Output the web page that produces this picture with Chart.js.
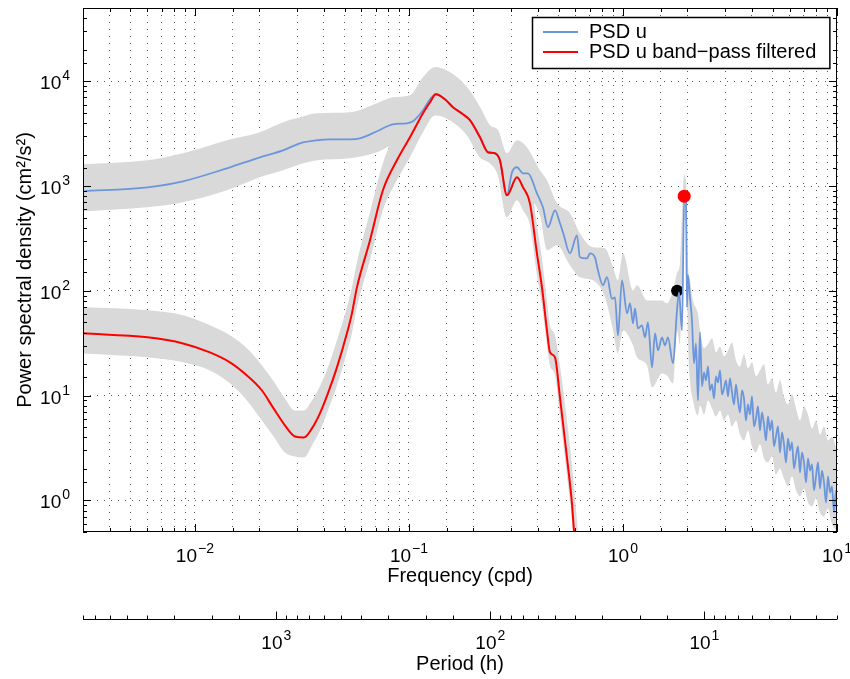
<!DOCTYPE html>
<html>
<head>
<meta charset="utf-8">
<script src="https://cdn.jsdelivr.net/npm/chart.js@4.4.1/dist/chart.umd.min.js"></script>
<style>
  html, body { margin: 0; padding: 0; background: #fff; }
  #wrap { width: 850px; height: 679px; }
</style>
</head>
<body>
<div id="wrap"><canvas id="psd" width="850" height="679"></canvas></div>
<script>
// PSD of u (cpd, cm^2/s^2)
const uFreq = [0.003, 0.006, 0.0088, 0.0141, 0.0201, 0.0258, 0.031, 0.0372, 0.0427, 0.053,
  0.059, 0.0709, 0.0841, 0.0979, 0.1045, 0.1163, 0.1254, 0.1337, 0.1473, 0.1606,
  0.1788, 0.1928, 0.2148, 0.2339, 0.2522, 0.2661, 0.2869, 0.3029, 0.3197, 0.3411,
  0.3599, 0.3963, 0.4227, 0.4462, 0.4813, 0.5077, 0.5244, 0.5655, 0.6096, 0.6294,
  0.6788, 0.7009, 0.7396, 0.7638, 0.8064, 0.842, 0.8887, 0.9177, 0.9476, 0.9894,
  1.045, 1.079, 1.114, 1.138, 1.175, 1.227, 1.267, 1.308, 1.367, 1.412,
  1.458, 1.522, 1.571, 1.622, 1.713, 1.788, 1.827, 1.887, 1.932, 1.97,
  1.991, 2.013, 2.056, 2.101, 2.147, 2.193, 2.241, 2.29,
  2.34, 2.391, 2.443, 2.496, 2.55, 2.606, 2.662, 2.72, 2.779, 2.84,
  2.902, 2.965, 3.029, 3.095, 3.162, 3.231, 3.301, 3.373, 3.446, 3.521,
  3.598, 3.676, 3.756, 3.838, 3.921, 4.006, 4.094, 4.183, 4.274, 4.367,
  4.462, 4.559, 4.658, 4.759, 4.863, 4.969, 5.077, 5.187, 5.3, 5.415,
  5.533, 5.653, 5.776, 5.902, 6.03, 6.162, 6.296, 6.433, 6.573, 6.716,
  6.862, 7.011, 7.164, 7.32, 7.479, 7.642, 7.808, 7.978, 8.152, 8.329,
  8.51, 8.695, 8.885, 9.078, 9.276, 9.477, 9.684, 9.894, 10];
const uPsd = [891, 973, 1110, 1476, 1880, 2193, 2560, 2735, 2793, 2793,
  2857, 3334, 3882, 3972, 4150, 5284, 6730, 7516, 6730, 5648,
  4842, 4246, 2918, 2100, 2055, 1762, 816, 1352, 1511, 1324,
  1324, 853, 627, 404, 587, 441, 362, 228, 339, 209,
  204, 228, 209, 157, 113, 135, 84, 86.7, 37.6, 126,
  61, 76, 48.9, 68.1, 43.9, 46.9, 36, 50, 18.6, 39.3,
  27, 36, 30.2, 36, 20.3, 65.2, 96.8, 42, 781, 731,
  69.5, 141, 86.7, 52.3, 20.3, 31.5, 9.01, 40.2,
  12.26, 16.67, 13.98, 19.02, 11.22, 12.8, 9.41, 15.27, 13.38, 17.42,
  10.28, 11.73, 13.98, 9.84, 14.61, 10.74, 8.25, 12.8, 9.01, 6.92,
  11.22, 9.41, 5.8, 8.25, 6.62, 9.84, 5.09, 6.07, 7.9, 4.66,
  6.92, 5.32, 3.74, 6.34, 4.66, 5.8, 3.28, 4.08, 5.09, 2.87,
  4.46, 3.43, 2.31, 3.91, 3.0, 3.58, 2.02, 2.63, 3.28, 1.85,
  2.87, 2.31, 1.49, 2.52, 1.93, 2.21, 1.25, 1.7, 2.31, 1.3,
  1.93, 1.49, 0.957, 1.7, 1.19, 1.36, 0.768, 1.25, 0.916];

// confidence band of PSD u
const uBandFreq = [0.003, 0.006, 0.0088, 0.0141, 0.0201, 0.0258, 0.031, 0.0372, 0.053, 0.0709,
  0.0841, 0.1011, 0.1163, 0.1323, 0.1554, 0.1866, 0.2148, 0.239, 0.2606, 0.2869,
  0.3197, 0.3558, 0.4094, 0.4415, 0.4916, 0.5655, 0.6294, 0.7243, 0.824, 0.8981,
  0.9476, 1.0, 1.114, 1.163, 1.295, 1.367, 1.522, 1.605, 1.713, 1.788,
  1.847, 1.932, 1.97, 2.013, 2.056, 2.124, 2.241,
  2.29, 2.391, 2.496, 2.606, 2.72, 2.84, 2.965, 3.095, 3.231, 3.373,
  3.521, 3.676, 3.838, 4.006, 4.183, 4.367, 4.559, 4.759, 4.969, 5.187,
  5.415, 5.653, 5.902, 6.162, 6.433, 6.716, 7.011, 7.32, 7.642, 7.978,
  8.329, 8.695, 9.078, 9.477, 9.894, 10];
const uBandHi = [1614, 1762, 2055, 2735, 3258, 4061, 4529, 4955, 5058, 6166,
  7031, 7343, 10910, 13610, 12190, 8770, 5648, 3802, 3404, 2055,
  2735, 2344, 1413, 1135, 684, 550, 354, 260, 255, 168,
  126, 228, 101, 113, 81.1, 81.1, 81.1, 76, 101, 147,
  183, 1268, 1135, 183, 126, 81.1, 60,
  42, 28.3, 30.9, 35.2, 25.9, 29.5, 23.7, 27, 32.2, 21.7,
  19, 24.8, 18.2, 20.8, 15.3, 17.4, 19.9, 12.8, 14.6, 10.7,
  14, 9.84, 8.25, 10.3, 7.56, 5.8, 7.9, 6.62, 4.87, 5.8,
  4.27, 5.09, 3.74, 4.08, 3.14, 2.81];
const uBandLo = [574, 627, 700, 911, 1213, 1413, 1614, 1762, 1841, 2100,
  2449, 2560, 3404, 4732, 4246, 3051, 1880, 1648, 1268, 503,
  853, 781, 526, 244, 272, 175, 135, 126, 86.7, 42,
  25.3, 42, 30.2, 23.2, 19.4, 12, 16.3, 15.6, 13.1, 42,
  30.2, 471, 422, 33.7, 14, 9.01, 6.48,
  8.07, 6.62, 9.01, 7.56, 6.34, 7.23, 5.8, 6.62, 5.09, 5.8,
  4.27, 3.74, 4.66, 3.28, 2.87, 3.43, 2.52, 2.31, 2.63, 1.77,
  2.02, 1.62, 1.36, 1.7, 1.25, 1.09, 1.3, 0.957, 0.877, 1.05,
  0.768, 0.704, 0.839, 0.59, 0.517, 0.495];

// PSD of band-pass filtered u
const fFreq = [0.003, 0.006, 0.0088, 0.01175, 0.01458, 0.0175, 0.02057, 0.02314, 0.02634, 0.02933,
  0.0323, 0.03522, 0.03838, 0.04182, 0.04609, 0.05132, 0.05415, 0.05715, 0.06574, 0.07557,
  0.08787, 0.1011, 0.1163, 0.1254, 0.1337, 0.1473, 0.1606, 0.1788, 0.1928, 0.2148,
  0.2339, 0.2522, 0.2661, 0.2869, 0.3197, 0.3411, 0.3675, 0.3963, 0.4183, 0.4415,
  0.456, 0.4813, 0.5077, 0.5474, 0.5777, 0.5902, 0.6096];
const fPsd = [39.3, 36, 31.5, 25.9, 20.8, 15.6, 11.2, 7.73, 5.2, 4.08,
  3.99, 4.87, 6.77, 10.5, 18.6, 39.3, 61, 108, 303, 911,
  1762, 2918, 4955, 6300, 7516, 6730, 5648, 4842, 4246, 2918,
  2100, 2055, 1762, 816, 1213, 973, 684, 228, 108, 42,
  25.9, 23.2, 9.62, 2.57, 0.936, 0.517, 0.267];

// confidence band of filtered PSD
const fBandFreq = [0.003, 0.006, 0.0088, 0.01175, 0.01458, 0.0175, 0.02057, 0.02314, 0.02634, 0.02933,
  0.0323, 0.03522, 0.03838, 0.04182, 0.04609, 0.05132, 0.05415, 0.05715, 0.06574, 0.07557,
  0.08787, 0.1011, 0.1163, 0.1323, 0.1554, 0.1866, 0.2148, 0.239, 0.2606, 0.2869,
  0.3197, 0.3411, 0.3675, 0.3963, 0.4183, 0.4415, 0.456, 0.4813, 0.5077, 0.5474,
  0.5777, 0.6096, 0.6294];
const fBandHi = [69.6, 65.2, 58.4, 46.9, 37.6, 28.3, 19.4, 14, 9.41, 7.23,
  7.23, 9.01, 12.3, 18.6, 33.7, 69.6, 108, 187, 561, 1648,
  3404, 5523, 10230, 13610, 12190, 8770, 5648, 3802, 3404, 2055,
  2193, 1762, 1268, 422, 204, 81.1, 46.9, 37.6, 19.4, 5.8,
  2.16, 0.644, 0.267];
const fBandLo = [25.3, 23.2, 20.8, 17.4, 13.1, 9.01, 5.8, 4.17, 2.87, 2.63,
  2.57, 3.35, 4.66, 7.23, 12.5, 25.9, 39.3, 69.6, 196, 587,
  1135, 1880, 3258, 4732, 4246, 3051, 1880, 1648, 1268, 503,
  731, 587, 422, 141, 72.7, 30.2, 19.4, 15.6, 6.48, 1.73,
  0.644, 0.172, 0.0715];

// marked frequencies
const blackDotFreq = [1.79];
const blackDotPsd = [100];
const redDotFreq = [1.932];
const redDotPsd = [800];

const GRAY = '#d9d9d9';
const BLUE = '#6b96dc';
const RED = '#ff0000';
const FONT = '"Liberation Sans", Arial, Helvetica, sans-serif';

function isDecade(v) {
  const l = Math.log10(v);
  return Math.abs(l - Math.round(l)) < 1e-6;
}

function pts(xs, ys) {
  return xs.map((f, i) => ({x: f, y: ys[i]}));
}

function fixSize(prop, size) {
  return s => {
    s[prop] = size;
    s.paddingLeft = s.paddingRight = s.paddingTop = s.paddingBottom = 0;
  };
}

// "10" with a raised exponent; align 'center' or 'right' on x, baseline at y
function drawPow(ctx, value, x, y, align) {
  const e = Math.round(Math.log10(value));
  const exp = e < 0 ? '\u2212' + (-e) : String(e);
  ctx.font = '19px ' + FONT;
  const wBase = ctx.measureText('10').width;
  ctx.font = '14px ' + FONT;
  const wExp = ctx.measureText(exp).width;
  const total = wBase + 1 + wExp;
  const x0 = align === 'right' ? x - total : x - total / 2;
  ctx.textAlign = 'left';
  ctx.textBaseline = 'alphabetic';
  ctx.font = '19px ' + FONT;
  ctx.fillText('10', x0, y);
  ctx.font = '14px ' + FONT;
  ctx.fillText(exp, x0 + wBase + 1, y - 9);
}

// box with inward tick marks and decade labels, like the matlab axes
const frameTicks = {
  id: 'frameTicks',
  afterDraw(chart) {
    const {ctx, chartArea: a, scales} = chart;
    const x2 = scales.x2;
    const yb = Math.round(x2.top) + 0.5;
    ctx.save();
    ctx.strokeStyle = '#000';
    ctx.lineWidth = 1;
    ctx.strokeRect(a.left + 0.5, a.top + 0.5, a.right - a.left - 1, a.bottom - a.top - 1);

    ctx.beginPath();
    scales.x.ticks.forEach(t => {
      const px = Math.round(scales.x.getPixelForValue(t.value)) + 0.5;
      const len = isDecade(t.value) ? 8 : 4;
      ctx.moveTo(px, a.bottom); ctx.lineTo(px, a.bottom - len);
      ctx.moveTo(px, a.top); ctx.lineTo(px, a.top + len);
    });
    scales.y.ticks.forEach(t => {
      const py = Math.round(scales.y.getPixelForValue(t.value)) + 0.5;
      const len = isDecade(t.value) ? 8 : 4;
      ctx.moveTo(a.left, py); ctx.lineTo(a.left + len, py);
      ctx.moveTo(a.right, py); ctx.lineTo(a.right - len, py);
    });
    ctx.moveTo(a.left, yb); ctx.lineTo(a.right, yb);
    x2.ticks.forEach(t => {
      const px = Math.round(x2.getPixelForValue(t.value)) + 0.5;
      const len = isDecade(t.value) ? 8 : 4;
      ctx.moveTo(px, yb); ctx.lineTo(px, yb - len);
    });
    ctx.stroke();

    ctx.fillStyle = '#000';
    scales.x.ticks.filter(t => isDecade(t.value)).forEach(t => {
      drawPow(ctx, t.value, scales.x.getPixelForValue(t.value), a.bottom + 30, 'center');
    });
    x2.ticks.filter(t => isDecade(t.value)).forEach(t => {
      drawPow(ctx, t.value, x2.getPixelForValue(t.value), x2.top + 30, 'center');
    });
    scales.y.ticks.filter(t => isDecade(t.value)).forEach(t => {
      drawPow(ctx, t.value, a.left - 13, scales.y.getPixelForValue(t.value) + 8, 'right');
    });
    ctx.restore();
  }
};

// legend box in the upper right corner of the axes
const boxLegend = {
  id: 'boxLegend',
  afterDraw(chart) {
    const {ctx, chartArea: a} = chart;
    const items = chart.data.datasets.filter(d => d.inLegend);
    ctx.save();
    ctx.font = '20px ' + FONT;
    const textW = Math.max(...items.map(d => ctx.measureText(d.label).width));
    const w = 57 + textW + 13;
    const h = 51;
    const x0 = Math.round(a.right - 8 - w);
    const y0 = a.top + 9;
    ctx.fillStyle = '#fff';
    ctx.fillRect(x0, y0, w, h);
    ctx.strokeStyle = '#000';
    ctx.lineWidth = 1.5;
    ctx.strokeRect(x0 + 0.5, y0 + 0.5, w, h);
    items.forEach((d, i) => {
      const yy = y0 + 15 + i * 20;
      ctx.strokeStyle = d.borderColor;
      ctx.lineWidth = d.borderWidth;
      ctx.beginPath();
      ctx.moveTo(x0 + 11, yy);
      ctx.lineTo(x0 + 46, yy);
      ctx.stroke();
      ctx.fillStyle = '#000';
      ctx.textBaseline = 'middle';
      ctx.fillText(d.label, x0 + 57, yy);
    });
    ctx.restore();
  }
};

const dotted = 'rgba(0,0,0,0.65)';

new Chart(document.getElementById('psd'), {
  type: 'line',
  data: {
    datasets: [
      {label: 'band u hi', data: pts(uBandFreq, uBandHi), fill: '+1', backgroundColor: GRAY,
        borderColor: 'rgba(0,0,0,0)', borderWidth: 0, pointRadius: 0, order: 7},
      {label: 'band u lo', data: pts(uBandFreq, uBandLo), fill: false,
        borderColor: 'rgba(0,0,0,0)', borderWidth: 0, pointRadius: 0, order: 6},
      {label: 'band f hi', data: pts(fBandFreq, fBandHi), fill: '+1', backgroundColor: GRAY,
        borderColor: 'rgba(0,0,0,0)', borderWidth: 0, pointRadius: 0, order: 5},
      {label: 'band f lo', data: pts(fBandFreq, fBandLo), fill: false,
        borderColor: 'rgba(0,0,0,0)', borderWidth: 0, pointRadius: 0, order: 4},
      {label: 'PSD u', data: pts(uFreq, uPsd), borderColor: BLUE, borderWidth: 1.8,
        pointRadius: 0, fill: false, order: 2, inLegend: true},
      {label: 'PSD u band\u2212pass filtered', data: pts(fFreq, fPsd), borderColor: RED, borderWidth: 2,
        pointRadius: 0, fill: false, order: 1, inLegend: true},
      {label: 'black dot', data: pts(blackDotFreq, blackDotPsd), showLine: false, pointRadius: 6,
        pointBackgroundColor: '#000', pointBorderWidth: 0, order: 3},
      {label: 'red dot', data: pts(redDotFreq, redDotPsd), showLine: false, pointRadius: 6.5,
        pointBackgroundColor: RED, pointBorderWidth: 0, order: 0}
    ]
  },
  options: {
    responsive: false,
    devicePixelRatio: 1,
    animation: false,
    events: [],
    cubicInterpolationMode: 'monotone',
    layout: {padding: {left: 0, right: 13, top: 8, bottom: 0}, autoPadding: false},
    plugins: {legend: {display: false}, tooltip: {enabled: false}},
    scales: {
      x: {
        type: 'logarithmic', min: 0.003, max: 10, position: 'bottom', weight: 0,
        afterFit: fixSize('height', 87),
        border: {display: false, dash: [1, 6]},
        grid: {color: dotted, lineWidth: 1, drawTicks: false},
        ticks: {display: false, autoSkip: false},
        title: {display: true, text: 'Frequency (cpd)', color: '#000',
          font: {family: FONT, size: 20}, padding: {top: 0, bottom: 31}}
      },
      x2: {
        type: 'logarithmic', min: 2.4, max: 8000, reverse: true, position: 'bottom', weight: 1,
        afterFit: fixSize('height', 60),
        border: {display: false},
        grid: {display: false, drawTicks: false},
        ticks: {display: false, autoSkip: false},
        title: {display: true, text: 'Period (h)', color: '#000',
          font: {family: FONT, size: 20}, padding: {top: 0, bottom: 3}}
      },
      y: {
        type: 'logarithmic', min: 0.5, max: 50000, position: 'left',
        afterFit: fixSize('width', 83),
        border: {display: false, dash: [1, 6]},
        grid: {color: c => isDecade(c.tick.value) ? dotted : 'rgba(0,0,0,0)', lineWidth: 1, drawTicks: false},
        ticks: {display: false, autoSkip: false},
        title: {display: true, text: 'Power spectral density (cm\u00B2/s\u00B2)', color: '#000',
          font: {family: FONT, size: 20}, padding: {top: 13, bottom: 0}}
      }
    }
  },
  plugins: [frameTicks, boxLegend]
});
</script>
</body>
</html>
